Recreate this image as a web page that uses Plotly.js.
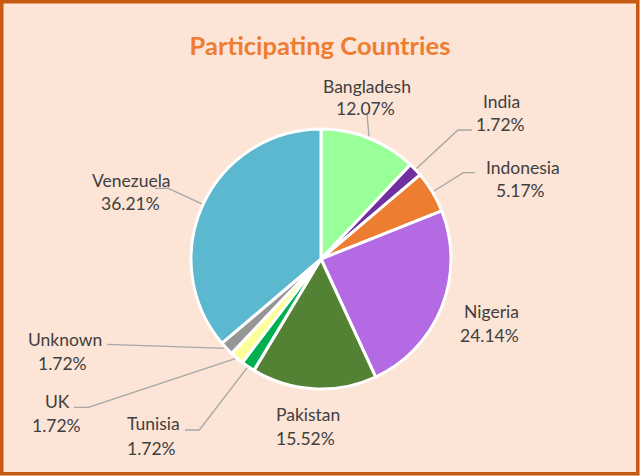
<!DOCTYPE html>
<html><head><meta charset="utf-8">
<script src="https://cdn.plot.ly/plotly-3.0.1.min.js"></script>
<style>html,body{margin:0;padding:0;background:#FCE4D6}#chart{width:640px;height:476px}</style>
</head><body><div id="chart"></div>
<script>
const countries = ['Bangladesh','India','Indonesia','Nigeria','Pakistan','Tunisia','UK','Unknown','Venezuela'];
const shares = [12.07, 1.72, 5.17, 24.14, 15.52, 1.72, 1.72, 1.72, 36.21];
const colors = ['#99FF99','#7030A0','#ED7D31','#B36AE2','#548235','#00B050','#FFFF99','#969696','#5BB8CF'];
const chartTitle = 'Participating Countries';

const W = 640, H = 476, CX = 321, CY = 259, R = 130;
// label placement in px: name line centre, percent line centre, leader line start points
const labelPos = {
  Bangladesh: {x:367, y:86, px:365, py:109, line:[[367,114]]},
  India:      {x:501, y:101, px:500, py:124.5, line:[[472,130],[458,130]]},
  Indonesia:  {x:523, y:167.5, px:520, py:190.5, line:[[475,172.7],[463.3,172.7]]},
  Nigeria:    {x:491.5, y:311, px:489, py:335.5},
  Pakistan:   {x:308, y:414, px:305.7, py:438},
  Tunisia:    {x:153.3, y:423.7, px:151, py:448, line:[[185,430],[199.3,430]]},
  UK:         {x:57.8, y:401.7, px:56.3, py:425.3, line:[[74,407.3],[88.3,407.3]]},
  Unknown:    {x:64.5, y:339.5, px:62, py:363, line:[[107.3,344.3]]},
  Venezuela:  {x:131.7, y:180, px:130, py:203, line:[[155,188.3],[168.3,188.3]]}
};

const fx = p => p / W, fy = p => 1 - p / H;
const total = shares.reduce((a,b)=>a+b,0);
const annotations = [], shapes = [];
const lblFont = {family:'Lato, sans-serif', size:17.5, color:'#404040'};
let cum = 0;
countries.forEach((c,i)=>{
  const mid = (cum + shares[i]/2) / total * 2 * Math.PI;
  cum += shares[i];
  const L = labelPos[c];
  annotations.push({text:c, x:fx(L.x), y:fy(L.y), xref:'paper', yref:'paper', showarrow:false, xanchor:'center', yanchor:'middle', font:lblFont});
  annotations.push({text:shares[i].toFixed(2)+'%', x:fx(L.px), y:fy(L.py), xref:'paper', yref:'paper', showarrow:false, xanchor:'center', yanchor:'middle', font:lblFont});
  if (L.line) {
    const ex = CX + R*Math.sin(mid), ey = CY - R*Math.cos(mid);
    const pts = L.line.concat([[ex,ey]]);
    const path = pts.map((p,k)=>(k?'L':'M')+fx(p[0])+','+fy(p[1])).join(' ');
    shapes.push({type:'path', xref:'paper', yref:'paper', path:path, line:{color:'#A6A6A6', width:1.3}, layer:'below'});
  }
});
shapes.push({type:'rect', xref:'paper', yref:'paper', x0:fx(1.75), x1:fx(W-2.25), y0:fy(H-2.25), y1:fy(1.75), line:{color:'#C55A11', width:3.5}, fillcolor:'rgba(0,0,0,0)'});

const trace = {
  type:'pie', labels:countries, values:shares, sort:false, direction:'clockwise', rotation:0,
  marker:{colors:colors, line:{color:'#FFFFFF', width:3}},
  textinfo:'none', hoverinfo:'label+percent',
  domain:{x:[fx(CX-R), fx(CX+R)], y:[fy(CY+R), fy(CY-R)]},
  showlegend:false
};
const layout = {
  width:W, height:H, margin:{l:0,r:0,t:0,b:0},
  paper_bgcolor:'#FCE4D6', plot_bgcolor:'#FCE4D6',
  title:{text:'<b>'+chartTitle+'</b>', font:{family:'Lato, sans-serif', size:25.5, color:'#ED7D31'}, x:0.5, xref:'paper', y:1-46/H, yref:'container', yanchor:'middle', xanchor:'center'},
  annotations:annotations, shapes:shapes, showlegend:false
};
Plotly.newPlot('chart',[trace],layout,{staticPlot:true, displayModeBar:false});
</script></body></html>
